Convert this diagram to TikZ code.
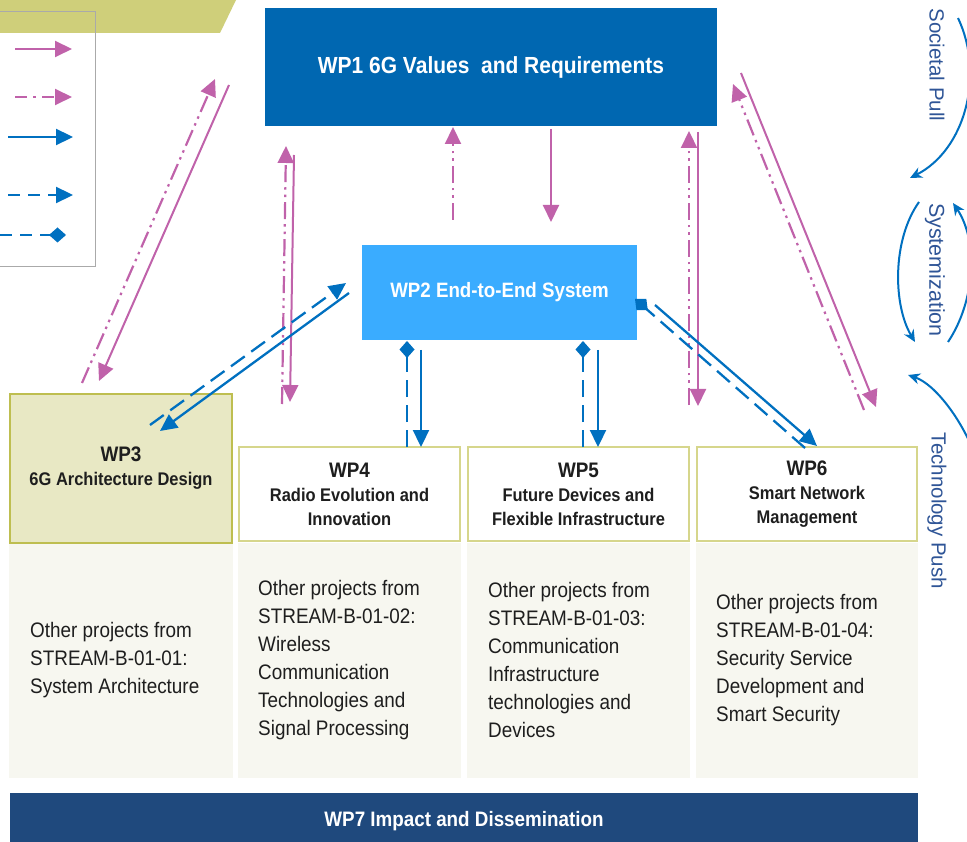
\documentclass[tikz,border=0pt]{standalone}
\usepackage{fontspec}
\setmainfont{Liberation Sans}[FakeStretch=0.9]
\newfontfamily\sidefont{Liberation Sans}
\usetikzlibrary{arrows.meta,calc}
\definecolor{wpone}{RGB}{0,103,177}
\definecolor{wptwo}{RGB}{58,172,255}
\definecolor{mag}{RGB}{192,98,170}
\definecolor{ablue}{RGB}{0,112,192}
\definecolor{olivebar}{RGB}{207,207,122}
\definecolor{wpthreefill}{RGB}{232,232,196}
\definecolor{wpthreeborder}{RGB}{190,190,80}
\definecolor{boxborder}{RGB}{214,214,140}
\definecolor{colfill}{RGB}{247,247,240}
\definecolor{wpseven}{RGB}{31,73,125}
\definecolor{sideblue}{RGB}{47,85,151}
\definecolor{txt}{RGB}{30,30,30}
\definecolor{legendgray}{RGB}{170,170,170}
\begin{document}
\begin{tikzpicture}[x=1pt,y=-1pt,
  magsolid/.style={draw=mag, line width=2pt, -{Triangle[length=17pt,width=16pt]}},
  magdd/.style={draw=mag, line width=2.2pt, dash pattern=on 17pt off 5pt on 2.5pt off 5pt on 2.5pt off 5pt, -{Triangle[length=17pt,width=16pt]}},
  bsolid/.style={draw=ablue, line width=2.3pt, -{Triangle[length=17pt,width=16pt]}},
  bdash/.style={draw=ablue, line width=2.3pt, dash pattern=on 17pt off 8pt, -{Triangle[length=17pt,width=16pt]}},
  bdiam/.style={draw=ablue, line width=2.3pt, dash pattern=on 17pt off 8pt, -{Diamond[length=17pt,width=15pt]}},
  curv/.style={draw=ablue, line width=2pt, -{Stealth[length=12pt,width=11pt]}},
  topbox/.style={rectangle, inner sep=0pt, outer sep=0pt, text=white, align=center},
  wpbox/.style={rectangle, draw=boxborder, line width=2pt, fill=white, inner sep=0pt, outer sep=0pt, text=txt, align=center, minimum height=94pt, font=\bfseries\fontsize{18.3}{24}\selectfont},
  colbox/.style={rectangle, fill=colfill, inner sep=0pt, outer sep=0pt, minimum height=235pt},
  coltext/.style={anchor=west, align=left, text=txt, inner sep=0pt, font=\fontsize{21}{28}\selectfont},
  sidetext/.style={rotate=-90, text=sideblue, inner sep=0pt, font=\sidefont\fontsize{20.5}{22}\selectfont}
]
\useasboundingbox (0,0) rectangle (967,842);
\clip (0,0) rectangle (967,842);
\fill[white] (0,0) rectangle (967,842);

% top-left olive bar and legend
\fill[olivebar] (0,0) -- (236,0) -- (220,33) -- (0,33) -- cycle;
\draw[legendgray, line width=1pt] (-5,12) rectangle (95,267);
\coordinate (l1a) at (15,49);  \coordinate (l1b) at (72,49);
\coordinate (l2a) at (15,97);  \coordinate (l2b) at (72,97);
\coordinate (l3a) at (8,137);  \coordinate (l3b) at (73,137);
\coordinate (l4a) at (8,195);  \coordinate (l4b) at (73,195);
\coordinate (l5a) at (0,235);  \coordinate (l5b) at (66,235);
\draw[magsolid] (l1a) -- (l1b);
\draw[magsolid, dash pattern=on 12pt off 6pt on 3pt off 6pt] (l2a) -- (l2b);
\draw[bsolid] (l3a) -- (l3b);
\draw[bdash, dash pattern=on 12pt off 8pt] (l4a) -- (l4b);
\draw[bdiam, dash pattern=on 12pt off 8pt] (l5a) -- (l5b);

% columns
\node[colbox, minimum width=224pt] (c3) at (121,660.5) {};
\node[colbox, minimum width=223pt] (c4) at (349.5,660.5) {};
\node[colbox, minimum width=223pt] (c5) at (578.5,660.5) {};
\node[colbox, minimum width=222pt] (c6) at (807,660.5) {};
\node[coltext] (t3) at (30,660) {Other projects from\\STREAM-B-01-01:\\System Architecture};
\node[coltext] (t4) at (258,660) {Other projects from\\STREAM-B-01-02:\\Wireless\\Communication\\Technologies and\\Signal Processing};
\node[coltext] (t5) at (488,660) {Other projects from\\STREAM-B-01-03:\\Communication\\Infrastructure\\technologies and\\Devices};
\node[coltext] (t6) at (716,660) {Other projects from\\STREAM-B-01-04:\\Security Service\\Development and\\Smart Security};

% main boxes
\node[topbox, fill=wpone, minimum width=452pt, minimum height=118pt,
      font=\bfseries\fontsize{23.3}{28}\selectfont] (wp1) at (491,67) {WP1 6G Values\ \ and Requirements};
\node[topbox, fill=wptwo, minimum width=275pt, minimum height=95pt,
      font=\bfseries\fontsize{20.8}{24}\selectfont] (wp2) at (499.5,292.5) {WP2 End-to-End System};
\node[wpbox, draw=wpthreeborder, fill=wpthreefill, line width=2.5pt, minimum width=222pt, minimum height=149pt] (wp3) at (121,468.5)
  {{\fontsize{21}{28}\selectfont WP3}\\6G Architecture Design};
\node[wpbox, minimum width=221pt] (wp4) at (349.5,494)
  {{\fontsize{21}{28}\selectfont WP4}\\Radio Evolution and\\Innovation};
\node[wpbox, minimum width=221pt] (wp5) at (578.5,494)
  {{\fontsize{21}{28}\selectfont WP5}\\Future Devices and\\Flexible Infrastructure};
\node[wpbox, minimum width=220pt] (wp6) at (807,494)
  {{\fontsize{21}{28}\selectfont WP6}\\Smart Network\\Management};
\node[topbox, fill=wpseven, minimum width=908pt, minimum height=56pt, anchor=north,
      font=\bfseries\fontsize{20.9}{24}\selectfont] (wp7) at (464,793) {\raisebox{4pt}{WP7 Impact and Dissemination}};

% magenta connectors WP1 <-> WPx
\coordinate (m1a) at (229,85);  \coordinate (m1b) at (99,381);
\coordinate (m2a) at (82,383);  \coordinate (m2b) at (215,79);
\coordinate (m3a) at (282,404); \coordinate (m3b) at (286,146);
\coordinate (m4a) at (294,155); \coordinate (m4b) at (290,402);
\coordinate (m5a) at (453,220); \coordinate (m5b) at (453,127);
\coordinate (m6a) at (551,129); \coordinate (m6b) at (551,222);
\coordinate (m7a) at (689,405); \coordinate (m7b) at (689,131);
\coordinate (m8a) at (698,132); \coordinate (m8b) at (698,406);
\coordinate (m9a) at (741,73);  \coordinate (m9b) at (876,407);
\coordinate (m10a) at (864,410); \coordinate (m10b) at (733,84);
\draw[magsolid] (m1a) -- (m1b);
\draw[magdd] (m2a) -- (m2b);
\draw[magdd] (m3a) -- (m3b);
\draw[magsolid] (m4a) -- (m4b);
\draw[magdd] (m5a) -- (m5b);
\draw[magsolid] (m6a) -- (m6b);
\draw[magdd] (m7a) -- (m7b);
\draw[magsolid] (m8a) -- (m8b);
\draw[magsolid] (m9a) -- (m9b);
\draw[magdd] (m10a) -- (m10b);

% blue connectors WP2 <-> WP3..WP6
\coordinate (b1a) at (150,425); \coordinate (b1b) at (346,283);
\coordinate (b2a) at (349,293); \coordinate (b2b) at (160,431);
\draw[bdash] (b1a) -- (b1b);
\draw[bsolid] (b2a) -- (b2b);
\coordinate (b3a) at (407,447); \coordinate (b3b) at (407,341);
\coordinate (b4a) at (421,350); \coordinate (b4b) at (421,447);
\coordinate (b5a) at (583,447); \coordinate (b5b) at (583,341);
\coordinate (b6a) at (598,350); \coordinate (b6b) at (598,447);
\draw[bdiam] (b3a) -- (b3b);
\draw[bsolid] (b4a) -- (b4b);
\draw[bdiam] (b5a) -- (b5b);
\draw[bsolid] (b6a) -- (b6b);
\coordinate (b7a) at (805,448); \coordinate (b7b) at (635,299);
\coordinate (b8a) at (655,305); \coordinate (b8b) at (817,446);
\draw[bdiam] (b7a) -- (b7b);
\draw[bsolid] (b8a) -- (b8b);

% right side: cycle arrows and labels
\node[sidetext] (sp) at (937,65) {Societal Pull};
\node[sidetext, font=\sidefont\fontsize{21.5}{22}\selectfont] (sy) at (935,270) {Systemization};
\node[sidetext] (tp) at (937,511) {Technology Push};
\coordinate (r1a) at (958,18);  \coordinate (r1b) at (910,178);
\coordinate (r2a) at (919,202); \coordinate (r2b) at (915,342);
\coordinate (r3a) at (948,342); \coordinate (r3b) at (953,203);
\coordinate (r4a) at (975,455); \coordinate (r4b) at (908,375);
\draw[curv] (r1a) .. controls (985,75) and (965,150) .. (r1b);
\draw[curv] (r2a) .. controls (892,240) and (893,305) .. (r2b);
\draw[curv] (r3a) .. controls (976,300) and (978,240) .. (r3b);
\draw[curv] (r4a) .. controls (962,420) and (935,384) .. (r4b);
\end{tikzpicture}
\end{document}
